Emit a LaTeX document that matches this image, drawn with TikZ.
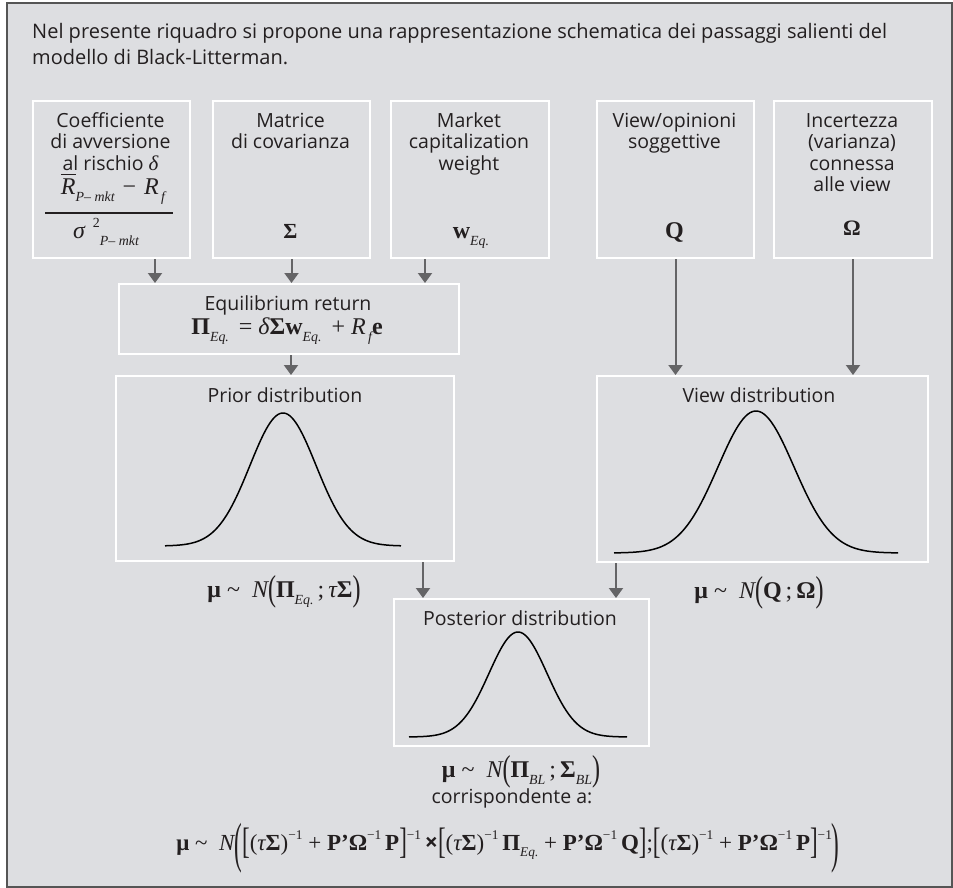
\documentclass[tikz,border=0pt]{standalone}
\usepackage{graphicx}
\usepackage{amsmath}
\usepackage[no-math]{fontspec}
\setmainfont{Open Sans}
\newfontfamily\tms{Liberation Serif}
\usetikzlibrary{arrows.meta}
\definecolor{bg}{RGB}{221,222,225}
\definecolor{arrgray}{RGB}{100,100,102}
\definecolor{framegray}{RGB}{85,85,85}
\definecolor{ink}{RGB}{35,31,32}
% formula helpers (used inside \tms nodes)
\newcommand\Bf[1]{{\bfseries #1}}
\newcommand\It[1]{{\itshape #1}}
\newcommand\Sb[1]{\raisebox{-0.3em}{\scalebox{0.58}{\itshape\mdseries #1}}}
\newcommand\Sp[1]{\raisebox{0.45em}{\scalebox{0.58}{\upshape\mdseries #1}}}
\newcommand\DL[3]{\raisebox{#2}{\scalebox{1}[#1]{#3}}}
\newcommand\Tl{\char"7E}
\begin{document}
\begin{tikzpicture}[x=1pt,y=-1pt,
  box/.style={draw=white, line width=2pt, inner sep=0pt, anchor=north west},
  lbl/.style={align=center, font=\fontsize{19.5}{21.5}\selectfont, inner sep=0pt, anchor=north, text=ink},
  ttl/.style={font=\fontsize{20}{26}\selectfont, inner sep=0pt, anchor=base west, text=ink},
  txt/.style={font=\fontsize{19.5}{21.5}\selectfont, inner sep=0pt, anchor=base, text=ink},
  arr/.style={draw=arrgray, line width=2pt, -{Triangle[width=14pt,length=10pt]}},
  curve/.style={line width=1.5pt, black},
  fml/.style={inner sep=0pt, anchor=base, font=\tms\fontsize{24}{26}\selectfont, text=ink}]
\useasboundingbox (0,0) rectangle (953,888);
\fill[white] (0,0) rectangle (953,888);
\draw[framegray, line width=2pt, fill=bg] (7,3) rectangle (952,887);

% title
\node[ttl] (t1) at (32,38.5) {Nel presente riquadro si propone una rappresentazione schematica dei passaggi salienti del};
\node[ttl] (t2) at (32,64.5) {modello di Black-Litterman.};

% top boxes
\node[box, minimum width=157pt, minimum height=157pt] (b1) at (32,100) {};
\node[box, minimum width=157pt, minimum height=157pt] (b2) at (212,100) {};
\node[box, minimum width=158pt, minimum height=157pt] (b3) at (390,100) {};
\node[box, minimum width=157pt, minimum height=157pt] (b4) at (596,100) {};
\node[box, minimum width=158pt, minimum height=157pt] (b5) at (773,100) {};

\node[lbl] (l1) at (110.5,112) {\rule{0pt}{15pt}Coefficiente\\di avversione\\al rischio {\tms\itshape\fontsize{21}{21}\selectfont δ}};
\node[fml] (fnum) at (113,194) {$\overline{\hbox{\itshape R}}$\Sb{P– mkt}\,\,−\,\,\It{R}\Sb{\,f}};
\draw[ink, line width=1.1pt] (45,213) -- (173,213);
\node[fml] (fden) at (106,238) {\It{σ}\,\,\Sp{2}\Sb{P– mkt}};
\node[lbl] (l2) at (290.5,112) {\rule{0pt}{15pt}Matrice\\di covarianza};
\node[fml, font=\tms\fontsize{21.5}{24}\selectfont] (m2) at (290.5,238) {\Bf{Σ}};
\node[lbl] (l3) at (469,112) {\rule{0pt}{15pt}Market\\capitalization\\weight};
\node[fml] (m3) at (471,238) {\Bf{w}\Sb{Eq.}};
\node[lbl] (l4) at (674.5,112) {\rule{0pt}{15pt}View/opinioni\\soggettive};
\node[fml, font=\tms\fontsize{24}{26}\selectfont] (m4) at (674.5,238) {\Bf{Q}};
\node[lbl] (l5) at (852,112) {\rule{0pt}{15pt}Incertezza\\(varianza)\\connessa\\alle view};
\node[fml, font=\tms\fontsize{22}{24}\selectfont] (m5) at (852,235) {\Bf{Ω}};

% equilibrium box
\node[box, minimum width=340pt, minimum height=70pt] (eq) at (118,283) {};
\node[txt] (eqt) at (288,310) {Equilibrium return};
\node[fml] (eqf) at (287,334) {\Bf{Π}\Sb{Eq.}\, = \It{δ}\Bf{Σw}\Sb{Eq.}\, + \It{R}\Sb{\,f}\Bf{e}};

% distribution boxes
\node[box, minimum width=338pt, minimum height=185pt] (pr) at (115,375) {};
\node[txt] (prt) at (285,402) {Prior distribution};
\node[box, minimum width=331pt, minimum height=186pt] (vw) at (596,375) {};
\node[txt] (vwt) at (759,402) {View distribution};
\node[box, minimum width=255pt, minimum height=147pt] (po) at (393,598) {};
\node[txt] (pot) at (520,625) {Posterior distribution};

% curves
\draw[curve] plot[domain=-118:118, samples=120, smooth] ({283+\x}, {546-133*exp(-(\x/33)*(\x/33)/2)});
\draw[curve] plot[domain=-142:142, samples=120, smooth] ({756+\x}, {553-142*exp(-(\x/38)*(\x/38)/2)});
\draw[curve] plot[domain=-109:109, samples=120, smooth] ({518+\x}, {737-105*exp(-(\x/29)*(\x/29)/2)});

% formulas
\node[fml] (fp) at (284,597) {\Bf{μ} \Tl\ \ \It{N}\DL{1.5}{-0.15em}{(}\Bf{Π}\Sb{Eq.}\,;\,\It{τ}\Bf{Σ}\DL{1.5}{-0.15em}{)}};
\node[fml] (fv) at (759,598) {\Bf{μ} \Tl\ \ \It{N}\DL{1.5}{-0.15em}{(}\Bf{Q}\,;\,\Bf{Ω}\DL{1.5}{-0.15em}{)}};
\node[fml] (fb) at (521,777) {\Bf{μ} \Tl\ \ \It{N}\DL{1.5}{-0.15em}{(}\Bf{Π}\Sb{BL}\,;\,\Bf{Σ}\Sb{BL}\DL{1.5}{-0.15em}{)}};
\node[txt] (corr) at (512,803) {corrispondente a:};
\node[fml, font=\tms\fontsize{23}{26}\selectfont] (big) at (508,850) {\Bf{μ} \Tl\ \ \It{N}\DL{2.4}{-0.5em}{(}\DL{1.6}{-0.14em}{[}(\It{τ}\Bf{Σ})\Sp{−1} + \Bf{P’Ω}\Sp{−1}\,\Bf{P}\DL{1.6}{-0.14em}{]}\Sp{−1}\,{\rmfamily\bfseries ×}\DL{1.6}{-0.14em}{[}(\It{τ}\Bf{Σ})\Sp{−1}\,\Bf{Π}\Sb{Eq.} + \Bf{P’Ω}\Sp{−1}\,\Bf{Q}\DL{1.6}{-0.14em}{]};\DL{1.6}{-0.14em}{[}(\It{τ}\Bf{Σ})\Sp{−1} + \Bf{P’Ω}\Sp{−1}\,\Bf{P}\DL{1.6}{-0.14em}{]}\Sp{−1}\DL{2.4}{-0.5em}{)}};

% arrows
\draw[arr] (b1.south -| 155,0) -- (eq.north -| 155,0);
\draw[arr] (b2.south) -- (eq.north -| b2.south);
\draw[arr] (b3.south -| 425,0) -- (eq.north -| 425,0);
\draw[arr] (eq.south -| 291,0) -- (pr.north -| 291,0);
\draw[arr] (b4.south) -- (vw.north -| b4.south);
\draw[arr] (b5.south) -- (vw.north -| b5.south);
\draw[arr] (pr.south -| 423,0) -- (po.north -| 423,0);
\draw[arr] (vw.south -| 616,0) -- (po.north -| 616,0);
\end{tikzpicture}
\end{document}
